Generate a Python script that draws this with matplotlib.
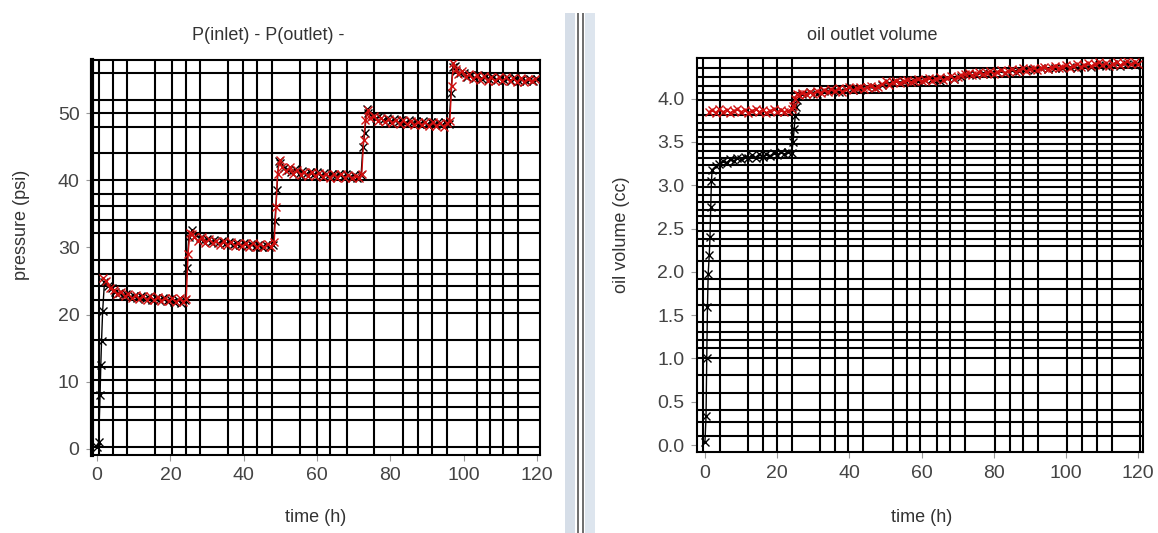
import matplotlib.pyplot as plt
from matplotlib.patches import Rectangle

plt.rcParams['font.family'] = ['Liberation Sans', 'DejaVu Sans']

# left panel: P(inlet) - P(outlet), psi
t_left_black = [0, 0.4, 0.8, 1.0, 1.2, 1.5,
                2, 3, 4, 5, 6, 7, 8, 9, 10, 11, 12, 13, 14, 15, 16, 17, 18, 19, 20, 21, 22, 23, 24,
                24.5, 25,
                26, 27, 28, 29, 30, 31, 32, 33, 34, 35, 36, 37, 38, 39, 40, 41, 42, 43, 44, 45, 46, 47, 48,
                48.5, 49, 49.5,
                50, 51, 52, 53, 54, 55, 56, 57, 58, 59, 60, 61, 62, 63, 64, 65, 66, 67, 68, 69, 70, 71, 72,
                72.5, 73, 73.5,
                74, 75, 76, 77, 78, 79, 80, 81, 82, 83, 84, 85, 86, 87, 88, 89, 90, 91, 92, 93, 94, 95, 96,
                96.5, 97, 97.5,
                98, 99, 100, 101, 102, 103, 104, 105, 106, 107, 108, 109, 110, 111, 112, 113, 114, 115, 116,
                117, 118, 119, 120]
p_left_black = [0.3, 1.0, 8.0, 12.5, 16.0, 20.5,
                24.8, 24.2, 23.9, 23.4, 23.2, 22.9, 23.1, 22.6, 22.8, 22.4, 22.7, 22.3, 22.6, 22.2, 22.5,
                22.1, 22.4, 22.0, 22.3, 21.9, 22.2, 21.8, 22.1,
                27.0, 31.5,
                32.6, 31.8, 31.4, 31.0, 31.3, 30.8, 31.1, 30.6, 30.9, 30.5, 30.8, 30.4, 30.7, 30.3, 30.6,
                30.2, 30.5, 30.1, 30.4, 30.0, 30.3, 30.0, 30.4,
                34.0, 38.5, 42.8,
                42.5, 41.8, 41.5, 41.2, 41.6, 41.0, 41.4, 40.9, 41.3, 40.8, 41.2, 40.7, 41.1, 40.6, 41.0,
                40.6, 40.9, 40.5, 40.9, 40.5, 40.8, 40.4, 40.8,
                45.0, 47.0, 50.6,
                50.0, 49.6, 49.2, 49.5, 48.9, 49.3, 48.7, 49.1, 48.6, 49.0, 48.5, 48.9, 48.5, 48.8, 48.4,
                48.8, 48.3, 48.7, 48.3, 48.6, 48.2, 48.6, 48.3,
                53.0, 56.8, 57.0,
                56.3, 55.9, 56.0, 55.4, 55.7, 55.2, 55.6, 55.1, 55.5, 55.0, 55.4, 54.9, 55.3, 54.9, 55.2,
                54.8, 55.2, 54.8, 55.1, 54.7, 55.1, 54.7, 55.0]

t_left_red = [1.5, 2.5, 3.5, 4.5, 5.5, 6.5, 7.5, 8.5, 9.5, 10.5, 11.5, 12.5, 13.5, 14.5, 15.5, 16.5,
              17.5, 18.5, 19.5, 20.5, 21.5, 22.5, 23.5,
              24.3, 24.8, 25.3, 25.8,
              26.5, 27.5, 28.5, 29.5, 30.5, 31.5, 32.5, 33.5, 34.5, 35.5, 36.5, 37.5, 38.5, 39.5, 40.5,
              41.5, 42.5, 43.5, 44.5, 45.5, 46.5, 47.5,
              48.3, 48.8, 49.2, 49.8,
              50.5, 51.5, 52.5, 53.5, 54.5, 55.5, 56.5, 57.5, 58.5, 59.5, 60.5, 61.5, 62.5, 63.5, 64.5,
              65.5, 66.5, 67.5, 68.5, 69.5, 70.5, 71.5,
              72.2, 72.7, 73.2, 73.8,
              74.5, 75.5, 76.5, 77.5, 78.5, 79.5, 80.5, 81.5, 82.5, 83.5, 84.5, 85.5, 86.5, 87.5, 88.5,
              89.5, 90.5, 91.5, 92.5, 93.5, 94.5, 95.5,
              96.2, 96.7, 97.2, 97.8,
              98.5, 99.5, 100.5, 101.5, 102.5, 103.5, 104.5, 105.5, 106.5, 107.5, 108.5, 109.5, 110.5,
              111.5, 112.5, 113.5, 114.5, 115.5, 116.5, 117.5, 118.5, 119.5]
p_left_red = [25.5, 25.0, 24.0, 23.6, 23.0, 23.4, 22.7, 23.0, 22.4, 22.9, 22.3, 22.8, 22.2, 22.7, 22.1,
              22.6, 22.0, 22.5, 22.0, 22.4, 21.9, 22.4, 21.9,
              22.3, 29.0, 32.2, 32.0,
              31.6, 31.0, 31.5, 30.7, 31.2, 30.6, 31.0, 30.4, 30.9, 30.3, 30.8, 30.2, 30.7, 30.2, 30.6,
              30.1, 30.6, 30.0, 30.5, 30.0, 30.5, 30.0,
              30.8, 36.0, 41.0, 43.0,
              42.0, 41.4, 41.9, 41.0, 41.5, 40.8, 41.3, 40.7, 41.2, 40.6, 41.1, 40.5, 41.0, 40.4, 40.9,
              40.4, 40.9, 40.3, 40.8, 40.3, 40.7, 40.4,
              41.0, 46.0, 49.0, 50.4,
              49.2, 49.6, 48.8, 49.3, 48.6, 49.1, 48.5, 49.0, 48.3, 48.9, 48.3, 48.8, 48.2, 48.7, 48.2,
              48.7, 48.1, 48.6, 48.1, 48.5, 48.0, 48.5,
              48.8, 54.0, 57.4, 56.6,
              55.8, 56.2, 55.3, 55.8, 55.0, 55.6, 54.9, 55.5, 54.8, 55.4, 54.8, 55.3, 54.7, 55.3, 54.7,
              55.2, 54.6, 55.2, 54.6, 55.1, 54.7, 55.1]

# right panel: oil outlet volume, cc
t_right_black = [0, 0.3, 0.5, 0.7, 0.9, 1.2, 1.4, 1.6, 1.8, 2.0,
                 3, 4, 5, 6, 7, 8, 9, 10, 11, 12, 13, 14, 15, 16, 17, 18, 19, 20, 21, 22, 23, 24,
                 24.4, 24.7, 25.0, 25.3, 25.6,
                 27, 29, 31, 33, 35, 37, 39, 41, 43, 45, 47,
                 49, 51, 53, 55, 57, 59, 61, 63, 65, 67, 69, 71,
                 73, 75, 77, 79, 81, 83, 85, 87, 89, 91, 93, 95,
                 97, 99, 101, 103, 105, 107, 109, 111, 113, 115, 117, 119]
v_right_black = [0.03, 0.33, 1.0, 1.6, 1.98, 2.2, 2.4, 2.75, 3.05, 3.18,
                 3.22, 3.25, 3.28, 3.26, 3.30, 3.28, 3.32, 3.30, 3.33, 3.31, 3.35, 3.32, 3.36, 3.33,
                 3.36, 3.34, 3.37, 3.35, 3.38, 3.36, 3.38, 3.37,
                 3.50, 3.65, 3.80, 3.90, 3.98,
                 4.05, 4.08, 4.06, 4.09, 4.10, 4.08, 4.11, 4.12, 4.10, 4.13, 4.12,
                 4.16, 4.18, 4.20, 4.19, 4.21, 4.20, 4.22, 4.23, 4.21, 4.24, 4.23, 4.25,
                 4.28, 4.27, 4.30, 4.29, 4.31, 4.30, 4.33, 4.32, 4.34, 4.33, 4.35, 4.34,
                 4.36, 4.35, 4.37, 4.36, 4.38, 4.37, 4.39, 4.38, 4.40, 4.38, 4.40, 4.39]

t_right_red = [1, 2, 3, 4, 5, 6, 7, 8, 9, 10, 11, 12, 13, 14, 15, 16, 17, 18, 19, 20, 21, 22, 23, 24,
               24.5, 25, 25.5,
               26, 27, 28, 29, 30, 31, 32, 33, 34, 35, 36, 37, 38, 39, 40, 41, 42, 43, 44, 45, 46, 47, 48,
               49, 50, 51, 52, 53, 54, 55, 56, 57, 58, 59, 60, 61, 62, 63, 64, 65, 66, 67, 68, 69, 70,
               71, 72,
               73, 74, 75, 76, 77, 78, 79, 80, 81, 82, 83, 84, 85, 86, 87, 88, 89, 90, 91, 92, 93, 94,
               95, 96,
               97, 98, 99, 100, 101, 102, 103, 104, 105, 106, 107, 108, 109, 110, 111, 112, 113, 114,
               115, 116, 117, 118, 119, 120]
v_right_red = [3.85, 3.87, 3.84, 3.88, 3.85, 3.87, 3.84, 3.86, 3.88, 3.85, 3.87, 3.84, 3.86, 3.88,
               3.85, 3.87, 3.84, 3.86, 3.88, 3.85, 3.87, 3.85, 3.86, 3.88,
               3.92, 4.00, 4.06,
               4.04, 4.07, 4.05, 4.08, 4.06, 4.09, 4.07, 4.10, 4.08, 4.11, 4.09, 4.12, 4.08, 4.11, 4.13,
               4.10, 4.12, 4.14, 4.11, 4.13, 4.15, 4.12, 4.14,
               4.17, 4.20, 4.16, 4.19, 4.21, 4.18, 4.20, 4.22, 4.19, 4.21, 4.23, 4.20, 4.22, 4.24, 4.21,
               4.23, 4.25, 4.22, 4.24, 4.26, 4.23, 4.25, 4.27, 4.28,
               4.30, 4.27, 4.29, 4.31, 4.28, 4.30, 4.32, 4.29, 4.31, 4.33, 4.30, 4.32, 4.34, 4.31, 4.33,
               4.35, 4.32, 4.34, 4.36, 4.33, 4.35, 4.37, 4.34, 4.36,
               4.38, 4.35, 4.37, 4.39, 4.36, 4.38, 4.40, 4.37, 4.39, 4.41, 4.38, 4.40, 4.42, 4.39, 4.41,
               4.38, 4.40, 4.42, 4.39, 4.41, 4.43, 4.40, 4.42, 4.40]

x_ticks = [0, 20, 40, 60, 80, 100, 120]
left_yticks = [0, 10, 20, 30, 40, 50]
right_yticks = [0.0, 0.5, 1.0, 1.5, 2.0, 2.5, 3.0, 3.5, 4.0]

# the heavy, unevenly spaced grid of the original
left_vgrid = [0.4, 4.4, 8.1, 15.8, 20.4, 24.3, 28.1, 35.8, 39.9, 43.5, 47.6, 55.4, 59.9, 63.5,
              68.1, 75.4, 83.5, 87.6, 91.3, 95.4, 103.5, 107.2, 110.8, 114.9]
left_hgrid = [0.3, 4.3, 6.3, 8.3, 10.3, 12.2, 16.2, 20.2, 22.2, 24.2, 26.1, 28.1, 32.1, 34.1,
              36.1, 38.0, 40.0, 44.0, 47.9, 50.0, 52.0, 55.9]
right_vgrid = [-0.5, 4.2, 12, 16.2, 19.9, 24, 31.9, 36, 39.7, 43.9, 52.2, 55.9, 59.6, 64.2, 67.9,
               72, 80.3, 84.5, 88.2, 92.3, 100.2, 104.3, 108.5, 112.7, 120.5]
right_hgrid = [4.35, 4.25, 4.15, 4.07, 3.98, 3.81, 3.72, 3.64, 3.56, 3.48, 3.4, 3.31, 3.23, 3.14,
               3.06, 2.98, 2.89, 2.81, 2.72, 2.64, 2.56, 2.47, 2.38, 2.3, 2.12, 1.92, 1.8, 1.62,
               1.42, 1.31, 1.21, 1.12, 1.0, 0.81, 0.6, 0.4, 0.27, 0.1]

W, H = 1158, 533
fig = plt.figure(figsize=(W / 100, H / 100), dpi=100)
fig.patch.set_facecolor('white')

ax1 = fig.add_axes([92 / W, 1 - 455 / H, 448 / W, 395 / H])
ax2 = fig.add_axes([697 / W, 1 - 452 / H, 446 / W, 394 / H])


def style(ax, vgrid, hgrid):
    for x in vgrid:
        ax.axvline(x, color='black', lw=1.5, zorder=1)
    for y in hgrid:
        ax.axhline(y, color='black', lw=1.5, zorder=1)
    for s in ax.spines.values():
        s.set_color('black')
        s.set_linewidth(1.5)
    ax.tick_params(color='#999999', labelcolor='#444444', labelsize=14, length=4, width=0.8, pad=5)
    ax.set_xticks(x_ticks)


mk = dict(marker='x', ms=5.5, mew=1.0, lw=1.0)
ax1.plot(t_left_black, p_left_black, color='black', zorder=3, **mk)
ax1.plot(t_left_red, p_left_red, color='#d01010', zorder=4, **mk)
style(ax1, left_vgrid, left_hgrid)
ax1.spines['left'].set_linewidth(3)
ax1.set_xlim(-1.4, 120.8)
ax1.set_ylim(-0.9, 57.9)
ax1.set_yticks(left_yticks)

ax2.plot(t_right_black, v_right_black, color='black', zorder=3, **mk)
ax2.plot(t_right_red, v_right_red, color='#d01010', zorder=4, **mk)
style(ax2, right_vgrid, right_hgrid)
ax2.set_xlim(-2.2, 121.3)
ax2.set_ylim(-0.08, 4.47)
ax2.set_yticks(right_yticks)
ax2.set_yticklabels(['%.1f' % v for v in right_yticks])

txt = dict(color='#333333', fontsize=13, ha='center', va='center')
fig.text(268 / W, 1 - 36 / H, 'P(inlet) - P(outlet) -', **txt)
fig.text(872 / W, 1 - 36 / H, 'oil outlet volume', **txt)
fig.text(22 / W, 1 - 225 / H, 'pressure (psi)', rotation=90, **txt)
fig.text(622 / W, 1 - 235 / H, 'oil volume (cc)', rotation=90, **txt)
fig.text(316 / W, 1 - 518 / H, 'time (h)', **txt)
fig.text(922 / W, 1 - 518 / H, 'time (h)', **txt)

# window splitter between the two panels
for x0, w, c in [(565, 10, '#d6dee8'), (577, 2, '#707070'), (582, 2, '#707070'), (585, 10, '#dde5ee')]:
    fig.add_artist(Rectangle((x0 / W, 0), w / W, 1 - 13 / H, transform=fig.transFigure,
                             facecolor=c, edgecolor='none'))

fig.savefig('out.png', dpi=100)
